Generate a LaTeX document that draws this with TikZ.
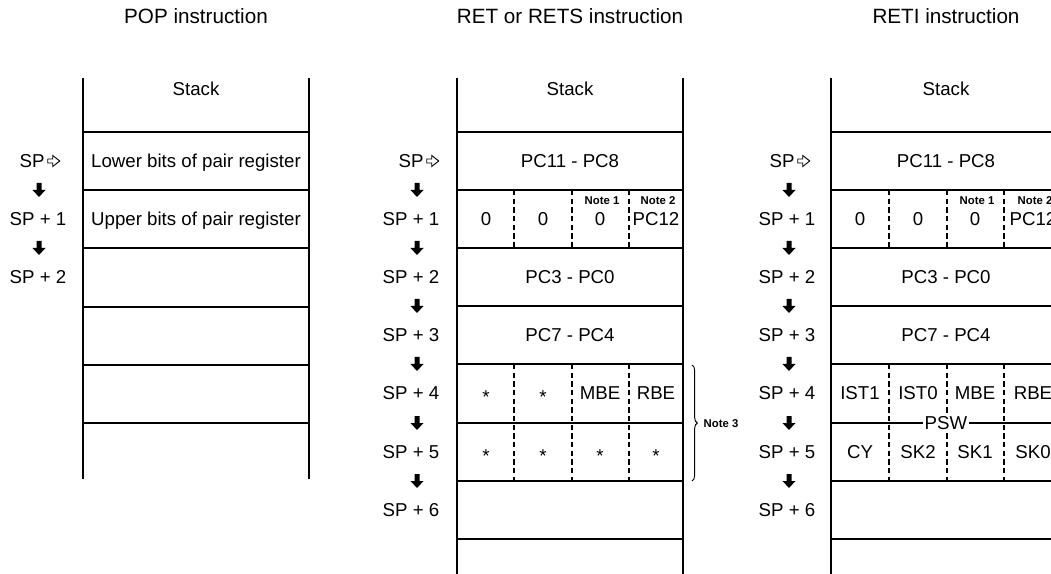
\documentclass[tikz,border=0pt]{standalone}
\usepackage{fontspec}
\setmainfont{Liberation Sans}
\usetikzlibrary{decorations.pathreplacing}

\newcommand{\dnarrow}[1]{\fill[shift={(#1)}] (-2.5,-7) -- (2.5,-7) -- (2.5,0) -- (6.5,0) -- (0,7) -- (-6.5,0) -- (-2.5,0) -- cycle;}
\newcommand{\sparrow}[1]{\draw[line width=0.7pt, shift={(#1)}] (3,-2) -- (8,-2) -- (8,-5.5) -- (15,0) -- (8,5.5) -- (8,2) -- (3,2) -- cycle;}

\begin{document}
\begin{tikzpicture}[x=0.75pt, y=-0.75pt,
    every node/.style={font=\fontsize{14}{16}\selectfont, inner sep=0pt, text height=10pt, text depth=0pt},
    title/.style={font=\fontsize{15.5}{18}\selectfont, text height=11pt},
    wall/.style={line width=2.2pt},
    row/.style={line width=1.2pt},
    cut/.style={line width=1.2pt, dash pattern=on 4pt off 2.5pt},
    note/.style={font=\fontsize{8.5}{10}\selectfont\bfseries, text height=6pt}]

    \useasboundingbox (0,0) rectangle (1051,574);
    \clip (0,0) rectangle (1051,574);

    % POP instruction
    \node[title] (poptitle) at (196,16) {POP instruction};
    \foreach \y in {132,190,248,307,365,423}
        \draw[row] (83,\y) -- (309,\y);
    \draw[wall] (83,78) -- (83,479);
    \draw[wall] (309,78) -- (309,479);
    \node (popstack) at (196,89) {Stack};
    \node (poplow) at (196,161) {Lower bits of pair register};
    \node (popup) at (196,219) {Upper bits of pair register};

    \node (popsp) at (32,161) {SP};
    \sparrow{popsp.east}
    \node (popsp1) at (38,219) {SP + 1};
    \node (popsp2) at (38,277) {SP + 2};
    \dnarrow{39,190}
    \dnarrow{39,248}

    % RET or RETS instruction
    \node[title] (rettitle) at (570,16) {RET or RETS instruction};
    \foreach \y in {132,190,248,306,364,423,481,539}
        \draw[row] (457,\y) -- (683,\y);
    \foreach \x in {514,572,629} {
        \draw[cut] (\x,190) -- (\x,248);
        \draw[cut] (\x,364) -- (\x,481);
    }
    \draw[wall] (457,78) -- (457,580);
    \draw[wall] (683,78) -- (683,580);
    \node (retstack) at (570,89) {Stack};
    \node (retpchi) at (570,161) {PC11 - PC8};
    \node (retb3) at (486,219) {0};
    \node (retb2) at (543,219) {0};
    \node (retb1) at (600,219) {0};
    \node (retb0) at (656,219) {PC12};
    \node[note] (retnote1) at (602,201) {Note 1};
    \node[note] (retnote2) at (658,201) {Note 2};
    \node (retpclo) at (570,277) {PC3 - PC0};
    \node (retpcmid) at (570,335) {PC7 - PC4};
    \node (retx1) at (486,393) {\raisebox{-3pt}{*}};
    \node (retx2) at (543,393) {\raisebox{-3pt}{*}};
    \node (retmbe) at (600,393) {MBE};
    \node (retrbe) at (656,393) {RBE};
    \node (rety1) at (486,452) {\raisebox{-3pt}{*}};
    \node (rety2) at (543,452) {\raisebox{-3pt}{*}};
    \node (rety3) at (600,452) {\raisebox{-3pt}{*}};
    \node (rety4) at (656,452) {\raisebox{-3pt}{*}};

    \draw[decorate, decoration={brace, amplitude=4pt}, line width=0.7pt] (692,365) -- (692,481);
    \node[note] (retnote3) at (721,423) {Note 3};

    \node (retsp) at (411,161) {SP};
    \sparrow{retsp.east}
    \node (retsp1) at (411,219) {SP + 1};
    \node (retsp2) at (411,277) {SP + 2};
    \node (retsp3) at (411,335) {SP + 3};
    \node (retsp4) at (411,393) {SP + 4};
    \node (retsp5) at (411,452) {SP + 5};
    \node (retsp6) at (411,510) {SP + 6};
    \foreach \y in {190,248,306,364,423,481} {
        \dnarrow{417,\y}
    }

    % RETI instruction
    \node[title] (rtititle) at (946,16) {RETI instruction};
    \foreach \y in {132,190,248,306,364,423,481,539}
        \draw[row] (831,\y) -- (1062,\y);
    \foreach \x in {889,947,1004} {
        \draw[cut] (\x,190) -- (\x,248);
        \draw[cut] (\x,364) -- (\x,481);
    }
    \draw[wall] (831,78) -- (831,580);
    \draw[wall] (1062,78) -- (1062,580);
    \node (rtistack) at (946,89) {Stack};
    \node (rtipchi) at (946,161) {PC11 - PC8};
    \node (rtib3) at (860,219) {0};
    \node (rtib2) at (918,219) {0};
    \node (rtib1) at (975,219) {0};
    \node (rtib0) at (1033,219) {PC12};
    \node[note] (rtinote1) at (977,201) {Note 1};
    \node[note] (rtinote2) at (1035,201) {Note 2};
    \node (rtipclo) at (946,277) {PC3 - PC0};
    \node (rtipcmid) at (946,335) {PC7 - PC4};
    \node (rtiist1) at (860,393) {IST1};
    \node (rtiist0) at (918,393) {IST0};
    \node (rtimbe) at (975,393) {MBE};
    \node (rtirbe) at (1033,393) {RBE};
    \node (rticy) at (860,452) {CY};
    \node (rtisk2) at (918,452) {SK2};
    \node (rtisk1) at (975,452) {SK1};
    \node (rtisk0) at (1033,452) {SK0};
    \node[fill=white, inner xsep=1pt] (rtipsw) at (946,423) {PSW};

    \node (rtisp) at (782,161) {SP};
    \sparrow{rtisp.east}
    \node (rtisp1) at (787,219) {SP + 1};
    \node (rtisp2) at (787,277) {SP + 2};
    \node (rtisp3) at (787,335) {SP + 3};
    \node (rtisp4) at (787,393) {SP + 4};
    \node (rtisp5) at (787,452) {SP + 5};
    \node (rtisp6) at (787,510) {SP + 6};
    \foreach \y in {190,248,306,364,423,481} {
        \dnarrow{789,\y}
    }

\end{tikzpicture}
\end{document}
